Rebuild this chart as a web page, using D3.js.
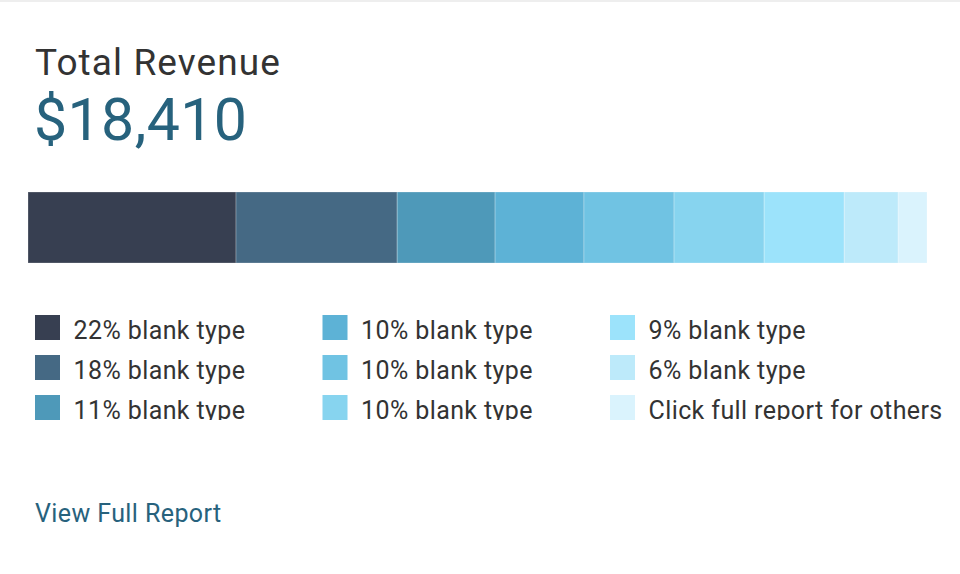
<!DOCTYPE html>
<html><head><meta charset="utf-8">
<script src="https://cdn.jsdelivr.net/npm/d3@7"></script>
<style>
html,body{margin:0;padding:0;background:#fff;}
svg{display:block;font-family:Roboto,"Noto Sans",sans-serif;}
</style></head>
<body>
<svg id="chart" width="960" height="574"></svg>
<script>
const title = "Total Revenue";
const totalLabel = "$18,410";
const categories = ["22% blank type","18% blank type","11% blank type","10% blank type","10% blank type","10% blank type","9% blank type","6% blank type","Click full report for others"];
const values = [4260, 3300, 2005, 1820, 1845, 1845, 1640, 1105, 590];
const colors = ["#373f51","#456984","#4e99b9","#5db2d6","#70c3e3","#87d4ef","#9ce3fb","#bdeafa","#daf3fd"];
const linkText = "View Full Report";

const svg = d3.select("#chart");
svg.append("rect").attr("x",0).attr("y",0).attr("width",960).attr("height",2).attr("fill","#eeeeee");

svg.append("text").attr("x",35).attr("y",75).attr("font-size",37).attr("letter-spacing",1.1).attr("fill","#333333").text(title);
svg.append("text").attr("x",34).attr("y",140).attr("font-size",59).attr("letter-spacing",0.4).attr("fill","#27627d").text(totalLabel);

const total = d3.sum(values);
const x = d3.scaleLinear().domain([0,total]).range([28,927]);
let cum = 0;
const segs = values.map((v,i)=>{const s={start:cum,end:cum+v,color:colors[i]};cum+=v;return s;});
svg.append("g").selectAll("rect").data(segs).join("rect")
  .attr("x",d=>x(d.start)).attr("y",192)
  .attr("width",d=>x(d.end)-x(d.start)).attr("height",71)
  .attr("fill",d=>d.color)
  .attr("stroke","rgba(255,255,255,0.25)").attr("stroke-width",1);

const clip = svg.append("defs").append("clipPath").attr("id","lc");
clip.append("rect").attr("x",0).attr("y",305).attr("width",960).attr("height",115);

const col = d3.scaleBand().domain([0,1,2]).range([35,897.5]);
const row = d3.scaleBand().domain([0,1,2]).range([315,435]);
const leg = svg.append("g").attr("clip-path","url(#lc)").selectAll("g").data(categories).join("g")
  .attr("transform",(d,i)=>`translate(${col(Math.floor(i/3))},${row(i%3)})`);
leg.append("rect").attr("width",25).attr("height",25).attr("fill",(d,i)=>colors[i]);
leg.append("text").attr("x",38.5).attr("y",24).attr("font-size",25).attr("letter-spacing",0.4).attr("fill","#333333").text(d=>d);

svg.append("text").attr("x",35).attr("y",522).attr("font-size",25).attr("letter-spacing",0.4).attr("fill","#27627d").text(linkText);
</script>
</body></html>
